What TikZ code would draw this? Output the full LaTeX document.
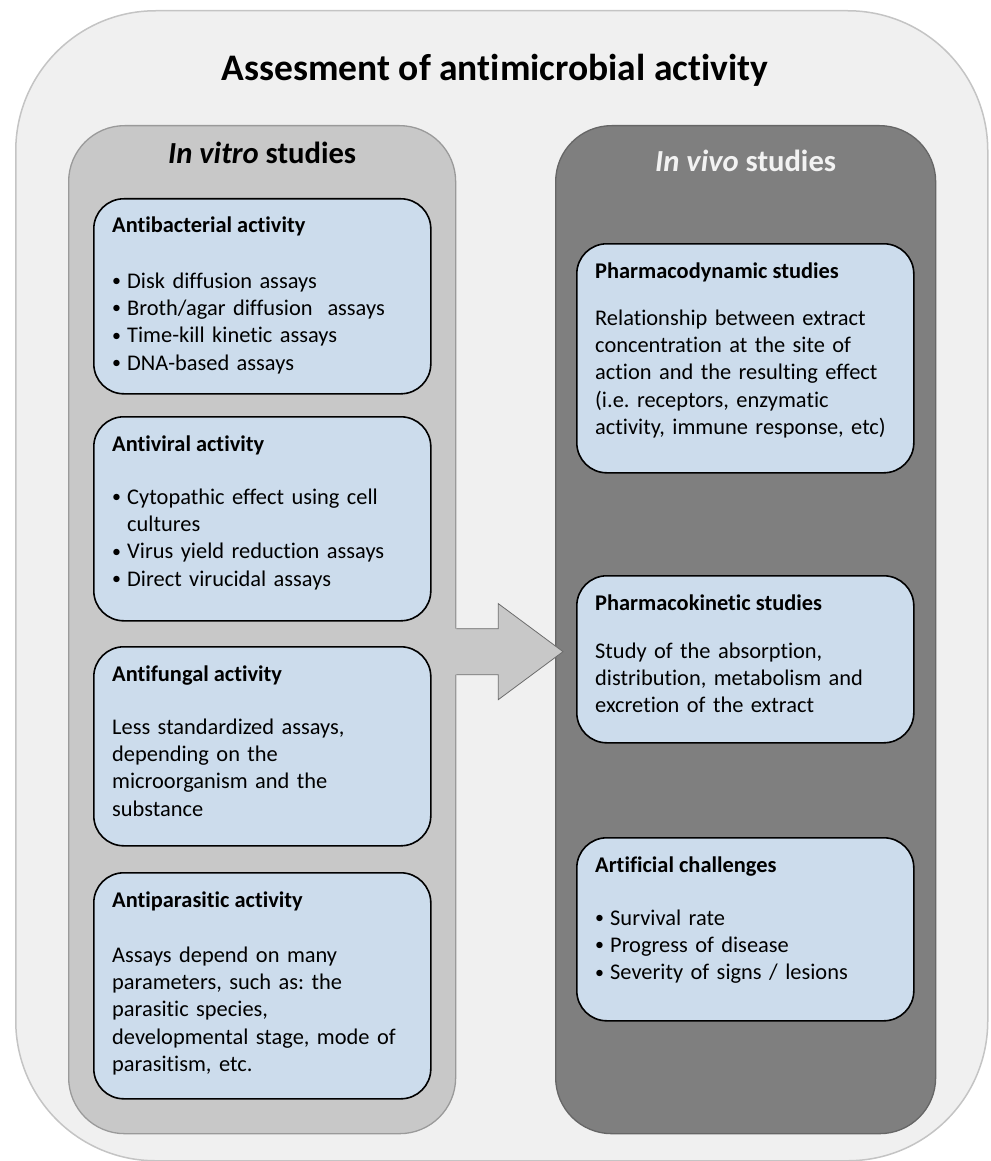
\documentclass[tikz,border=0pt]{standalone}
\usepackage{fontspec}
\setmainfont{Carlito}[Ligatures=NoCommon]
\usetikzlibrary{calc,positioning}
\definecolor{outerfill}{HTML}{F0F0F0}
\definecolor{outerline}{HTML}{C4C4C4}
\definecolor{vitrofill}{HTML}{C8C8C8}
\definecolor{vitroline}{HTML}{9A9A9A}
\definecolor{vivofill}{HTML}{7F7F7F}
\definecolor{vivoline}{HTML}{666666}
\definecolor{cardfill}{HTML}{CCDCEC}
\definecolor{vivotext}{HTML}{F2F2F2}
\tikzset{
  outerframe/.style={draw=outerline, fill=outerfill, line width=1.5pt, rounded corners=140pt, inner sep=0pt},
  panel/.style={line width=1.3pt, rounded corners=56pt, minimum width=387pt, minimum height=1008pt, inner sep=0pt, anchor=north west},
  card/.style={draw=black, fill=cardfill, line width=1.6pt, rounded corners=30pt, minimum width=337pt, inner sep=0pt},
  ttl/.style={font=\fontsize{37.5}{45}\selectfont\bfseries, inner sep=0pt},
  hdr/.style={font=\fontsize{30.6}{36}\selectfont\bfseries, inner sep=0pt},
  cardttl/.style={font=\fontsize{22.4}{27.4}\selectfont\bfseries, inner sep=0pt},
  cardtxt/.style={font=\fontsize{22.4}{27.4}\selectfont\frenchspacing, inner sep=0pt, text width=315pt, align=left},
  bigarrow/.style={fill=vitrofill},
  bigarrowline/.style={draw=gray!85!black, line width=0.8pt, line join=miter},
}
\newcommand{\itm}{\makebox[15pt][l]{\raisebox{1.5pt}{\scalebox{0.8}{•}}}}
\newcommand{\cont}{\hspace*{15pt}}
% #1 name, #2 x, #3 top, #4 height, #5 title, #6 gap to body, #7 body
\newcommand{\StudyCard}[7]{%
  \node[card, minimum height=#4, anchor=north west] (#1) at (#2,#3) {};
  \node[cardttl, anchor=base west] (#1t) at ($(#1.north west)+(19,35)$) {#5};
  \node[cardtxt, anchor=base west] (#1b) at ($(#1t.base west)+(0,#6)$) {#7};
}

\begin{document}
\begin{tikzpicture}[x=1pt, y=-1pt]
  \useasboundingbox (0,0) rectangle (990,1161);
  \node[outerframe, minimum width=972, minimum height=1150, anchor=north west] (outer) at (15,10) {};
  \node[ttl, anchor=base] (title) at (495,81) {Assesment of antimicrobial activity};

  % the two study panels
  \node[panel, draw=vitroline, fill=vitrofill] (vitro) at (68,125) {};
  \node[panel, draw=vivoline, fill=vivofill, minimum width=380pt] (vivo) at (555,125) {};
  \node[hdr, anchor=base] (vitroh) at ($(vitro.north)+(0,39)$) {\textit{In vitro} studies};
  \node[hdr, anchor=base, text=vivotext] (vivoh) at ($(vivo.north)+(0,47)$) {\textit{In vivo} studies};

  % block arrow from in vitro to in vivo
  \coordinate (arrL) at ($(vitro.east)+(0,22)$);
  \coordinate (arrR) at ($(vivo.west |- arrL)+(8,0)$);
  \fill[bigarrow] ($(arrL)+(-12,-23)$) -- ($(arrL)+(42,-23)$) -- ($(arrL)+(42,-48)$) -- (arrR)
    -- ($(arrL)+(42,48)$) -- ($(arrL)+(42,23)$) -- ($(arrL)+(-12,23)$) -- cycle;
  \draw[bigarrowline] ($(arrL)+(0,-23)$) -- ($(arrL)+(42,-23)$) -- ($(arrL)+(42,-48)$) -- (arrR)
    -- ($(arrL)+(42,48)$) -- ($(arrL)+(42,23)$) -- ($(arrL)+(0,23)$);

  % in vitro cards
  \StudyCard{abac}{93}{198}{195}{Antibacterial activity}{55}{%
    \itm Disk diffusion assays\\
    \itm Broth/agar diffusion~ assays\\
    \itm Time-kill kinetic assays\\
    \itm DNA-based assays}
  \StudyCard{avir}{93}{416}{204}{Antiviral activity}{53}{%
    \itm Cytopathic effect using cell\\
    \cont cultures\\
    \itm Virus yield reduction assays\\
    \itm Direct virucidal assays}
  \StudyCard{afun}{93}{646}{199}{Antifungal activity}{53}{%
    Less standardized assays,\\
    depending on the\\
    microorganism and the\\
    substance}
  \StudyCard{apar}{93}{872}{226}{Antiparasitic activity}{55}{%
    Assays depend on many\\
    parameters, such as: the\\
    parasitic species,\\
    developmental stage, mode of\\
    parasitism, etc.}

  % in vivo cards
  \StudyCard{pdyn}{576}{243}{229}{Pharmacodynamic studies}{47}{%
    Relationship between extract\\
    concentration at the site of\\
    action and the resulting effect\\
    (i.e. receptors, enzymatic\\
    activity, immune response, etc)}
  \StudyCard{pkin}{576}{575}{167}{Pharmacokinetic studies}{48}{%
    Study of the absorption,\\
    distribution, metabolism and\\
    excretion of the extract}
  \StudyCard{achal}{576}{837}{183}{Artificial challenges}{53}{%
    \itm Survival rate\\
    \itm Progress of disease\\
    \itm Severity of signs / lesions}
\end{tikzpicture}
\end{document}
